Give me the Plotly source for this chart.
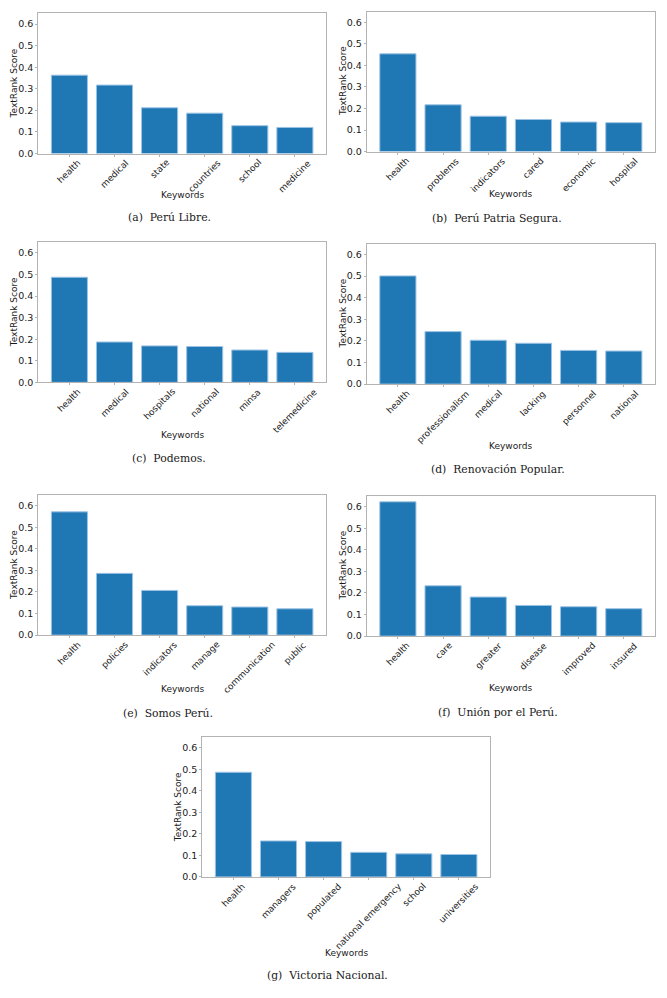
import plotly.graph_objects as go

W, H = 667, 998

# ---- data ----
cats_a = ["health", "medical", "state", "countries", "school", "medicine"]
vals_a = [0.363, 0.317, 0.212, 0.187, 0.129, 0.121]
cats_b = ["health", "problems", "indicators", "cared", "economic", "hospital"]
vals_b = [0.454, 0.217, 0.164, 0.149, 0.137, 0.134]
cats_c = ["health", "medical", "hospitals", "national", "minsa", "telemedicine"]
vals_c = [0.487, 0.187, 0.169, 0.166, 0.150, 0.139]
cats_d = ["health", "professionalism", "medical", "lacking", "personnel", "national"]
vals_d = [0.501, 0.243, 0.203, 0.189, 0.156, 0.153]
cats_e = ["health", "policies", "indicators", "manage", "communication", "public"]
vals_e = [0.571, 0.286, 0.207, 0.136, 0.130, 0.122]
cats_f = ["health", "care", "greater", "disease", "improved", "insured"]
vals_f = [0.622, 0.233, 0.181, 0.142, 0.136, 0.127]
cats_g = ["health", "managers", "populated", "national emergency", "school", "universities"]
vals_g = [0.486, 0.167, 0.164, 0.114, 0.107, 0.104]
captions = ["(a)  Perú Libre.", "(b)  Perú Patria Segura.", "(c)  Podemos.",
            "(d)  Renovación Popular.", "(e)  Somos Perú.", "(f)  Unión por el Perú.",
            "(g)  Victoria Nacional."]
y_ticks = [0.0, 0.1, 0.2, 0.3, 0.4, 0.5, 0.6]

panels = [
    (cats_a, vals_a),
    (cats_b, vals_b),
    (cats_c, vals_c),
    (cats_d, vals_d),
    (cats_e, vals_e),
    (cats_f, vals_f),
    (cats_g, vals_g),
]

# ---- layout geometry in pixels: (left, right, top, bottom, ytitle_x, kw_y, cap_x, cap_y) ----
geom = [
    (38.3, 326, 13.3, 154.3, 14, 196, 169, 219),
    (366.7, 655, 11.7, 152.3, 342.5, 195, 497, 220),
    (38.3, 326, 243.3, 384.3, 14, 437.3, 168.6, 461),
    (366.7, 655, 245, 386, 342.5, 448.3, 498, 471.5),
    (38.3, 326, 497.3, 638.3, 14, 692.3, 168, 717),
    (366.7, 655, 498.3, 639.3, 342.5, 691.3, 498, 716),
    (202.3, 490, 740.7, 881.3, 178.3, 957.5, 327.5, 980),
]

def px(x):
    return x / W

def py(y):
    return 1 - y / H

fig = go.Figure()
layout = dict(
    width=W, height=H, margin=dict(l=0, r=0, t=0, b=0),
    paper_bgcolor="white", plot_bgcolor="white", showlegend=False,
    font=dict(family="DejaVu Sans", color="#1a1a1a"),
)
annotations = []
spine = "#b3b3b3"
ink = "#1a1a1a"
tickfont = dict(family="DejaVu Sans", size=9.5, color=ink)
for i, ((cats, vals), g) in enumerate(zip(panels, geom)):
    n = i + 1
    xa = "x" if n == 1 else f"x{n}"
    ya = "y" if n == 1 else f"y{n}"
    l, r, t, b, ytx, kwy, capx, capy = g
    fig.add_trace(go.Bar(
        x=list(range(len(cats))), y=vals, xaxis=xa, yaxis=ya, width=0.8,
        marker=dict(color="#1f77b4", line=dict(color="#9cc3e4", width=1)),
        hovertext=cats, hoverinfo="text+y",
    ))
    layout["xaxis" if n == 1 else f"xaxis{n}"] = dict(
        domain=[px(l), px(r)], anchor=ya,
        range=[-0.69, len(cats) - 1 + 0.69],
        tickvals=list(range(len(cats))), showticklabels=False,
        showline=True, linecolor=spine, linewidth=1, mirror=True,
        showgrid=False, zeroline=False, ticks="outside", ticklen=2,
        tickcolor=spine, tickwidth=1,
    )
    layout["yaxis" if n == 1 else f"yaxis{n}"] = dict(
        domain=[py(b), py(t)], anchor=xa, range=[0, 0.65],
        tickvals=y_ticks, ticktext=[f"{v:.1f}" for v in y_ticks],
        showline=True, linecolor=spine, linewidth=1, mirror=True,
        showgrid=False, zeroline=False, ticks="outside", ticklen=2,
        tickcolor=spine, tickwidth=1, tickfont=tickfont,
    )
    # rotated category labels, centred under each tick (matplotlib rotation=45 style)
    for j, c in enumerate(cats):
        annotations.append(dict(
            text=c, x=j, y=py(b + 3), xref=xa, yref="paper",
            textangle=-45, showarrow=False, xanchor="center", yanchor="top",
            font=dict(family="DejaVu Sans", size=8.9, color=ink),
            borderpad=0,
        ))
    cx = (l + r) / 2
    annotations.append(dict(
        text="TextRank Score", x=px(ytx), y=py((t + b) / 2), xref="paper", yref="paper",
        textangle=-90, showarrow=False, xanchor="center", yanchor="middle",
        font=dict(family="DejaVu Sans", size=9, color=ink),
    ))
    annotations.append(dict(
        text="Keywords", x=px(cx), y=py(kwy), xref="paper", yref="paper",
        showarrow=False, xanchor="center", yanchor="middle",
        font=dict(family="DejaVu Sans", size=9, color=ink),
    ))
    annotations.append(dict(
        text=captions[i], x=px(capx), y=py(capy), xref="paper", yref="paper",
        showarrow=False, xanchor="center", yanchor="middle",
        font=dict(family="DejaVu Serif", size=10.8, color=ink),
    ))

layout["annotations"] = annotations
fig.update_layout(**layout)
fig.write_html("out.html")
